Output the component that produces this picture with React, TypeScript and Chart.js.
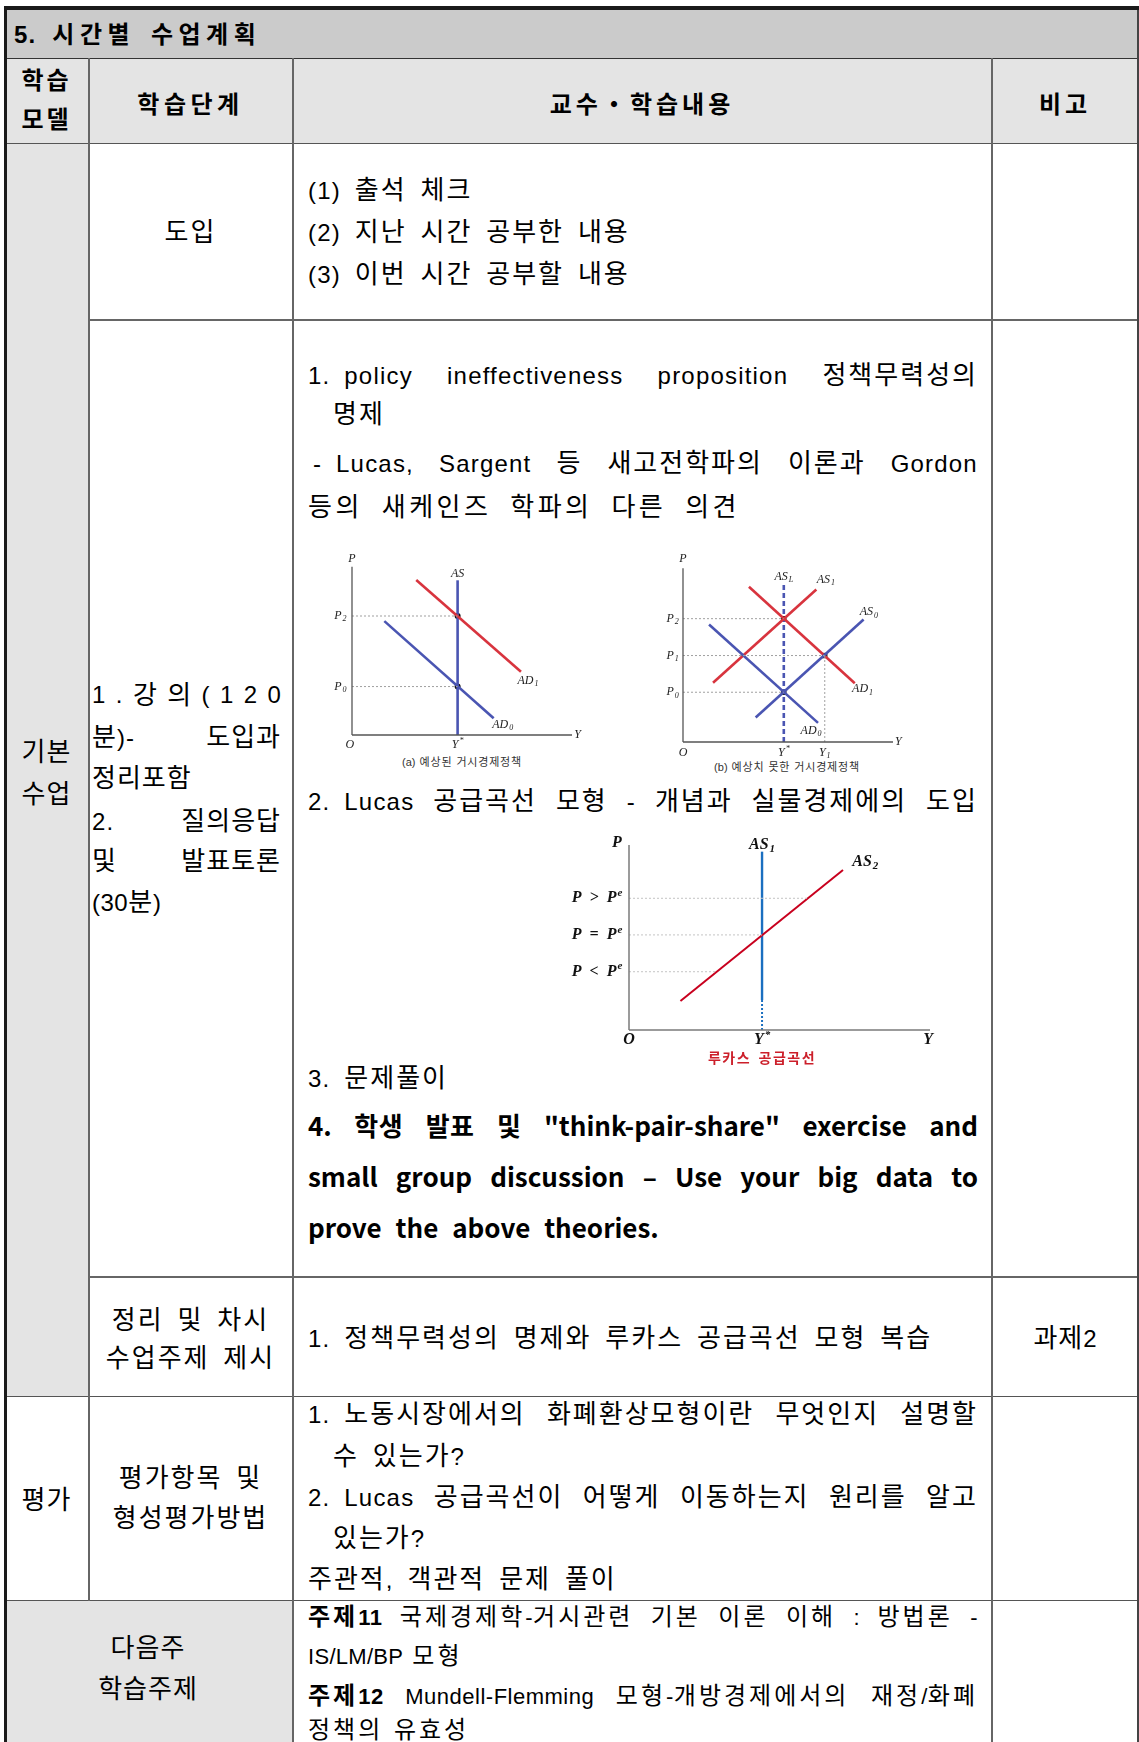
import React, { useEffect, useRef } from "react";
import { Chart, registerables } from "chart.js";

Chart.register(...registerables);

type Pt = { x: number; y: number };
type Lbl = { t: string; sub?: string; sup?: string; x: number; y: number; a?: "left" | "center" | "right" };

// ===== Figure (a) 예상된 거시경제정책 =====
const A_AXIS_X: Pt[] = [{ x: 0, y: 0 }, { x: 10, y: 0 }];
const A_AXIS_Y: Pt[] = [{ x: 0, y: 0 }, { x: 0, y: 9.9 }];
const A_AS: Pt[] = [{ x: 4.8, y: 0 }, { x: 4.8, y: 9.1 }];
const A_AD1: Pt[] = [{ x: 2.92, y: 9.12 }, { x: 7.68, y: 3.72 }];
const A_AD0: Pt[] = [{ x: 1.47, y: 6.7 }, { x: 6.44, y: 0.98 }];
const A_EQ: Pt[] = [{ x: 4.8, y: 7.0 }, { x: 4.8, y: 2.85 }];
const A_LABELS: Lbl[] = [
  { t: "P", x: 0, y: 10.35 },
  { t: "O", x: -0.1, y: -0.6 },
  { t: "Y", x: 10.25, y: 0 },
  { t: "Y", sup: "*", x: 4.8, y: -0.6 },
  { t: "P", sub: "2", x: -0.25, y: 7.0, a: "right" },
  { t: "P", sub: "0", x: -0.25, y: 2.85, a: "right" },
  { t: "AS", x: 4.8, y: 9.5 },
  { t: "AD", sub: "1", x: 8.0, y: 3.2 },
  { t: "AD", sub: "0", x: 6.85, y: 0.62 },
];

// ===== Figure (b) 예상치 못한 거시경제정책 =====
const B_AXIS_X: Pt[] = [{ x: 0, y: 0 }, { x: 10, y: 0 }];
const B_AXIS_Y: Pt[] = [{ x: 0, y: 0 }, { x: 0, y: 9.7 }];
const B_ASL: Pt[] = [{ x: 4.8, y: 0 }, { x: 4.8, y: 8.8 }];
const B_AS1: Pt[] = [{ x: 1.43, y: 3.31 }, { x: 6.35, y: 8.52 }];
const B_AS0: Pt[] = [{ x: 3.46, y: 1.37 }, { x: 8.6, y: 6.84 }];
const B_AD1: Pt[] = [{ x: 3.14, y: 8.67 }, { x: 8.18, y: 3.28 }];
const B_AD0: Pt[] = [{ x: 1.24, y: 6.56 }, { x: 6.43, y: 1.07 }];
const B_EQ: Pt[] = [{ x: 4.8, y: 6.89 }, { x: 6.75, y: 4.83 }, { x: 4.8, y: 2.78 }];
const B_Y1: Pt[] = [{ x: 6.75, y: 0 }, { x: 6.75, y: 4.83 }];
const B_LABELS: Lbl[] = [
  { t: "P", x: 0, y: 10.25 },
  { t: "AS", sub: "L", x: 4.8, y: 9.25 },
  { t: "AS", sub: "1", x: 6.8, y: 9.05 },
  { t: "AS", sub: "0", x: 8.85, y: 7.25 },
  { t: "AD", sub: "1", x: 8.55, y: 2.95 },
  { t: "AD", sub: "0", x: 6.1, y: 0.62 },
  { t: "O", x: 0, y: -0.6 },
  { t: "Y", sup: "*", x: 4.8, y: -0.6 },
  { t: "Y", sub: "1", x: 6.75, y: -0.6 },
  { t: "Y", x: 10.25, y: 0 },
  { t: "P", sub: "2", x: -0.2, y: 6.89, a: "right" },
  { t: "P", sub: "1", x: -0.2, y: 4.83, a: "right" },
  { t: "P", sub: "0", x: -0.2, y: 2.78, a: "right" },
];

// ===== 루카스 공급곡선 =====
const L_AXIS_X: Pt[] = [{ x: 0, y: 0 }, { x: 10, y: 0 }];
const L_AXIS_Y: Pt[] = [{ x: 0, y: 0 }, { x: 0, y: 10 }];
const L_AS1: Pt[] = [{ x: 4.42, y: 1.62 }, { x: 4.42, y: 9.64 }];
const L_AS1_DOT: Pt[] = [{ x: 4.42, y: 0 }, { x: 4.42, y: 1.62 }];
const L_AS2: Pt[] = [{ x: 1.71, y: 1.57 }, { x: 7.11, y: 8.65 }];
const L_LEVELS: number[] = [7.12, 5.14, 3.15];
const L_GUIDE_END: number[] = [5.94, 4.42, 2.92];
const L_LEVEL_TEXT: string[] = ["P  >  P", "P  =  P", "P  <  P"];
const L_LABELS: Lbl[] = [
  { t: "P", x: -0.4, y: 10.1 },
  { t: "AS", sub: "1", x: 4.42, y: 10.0 },
  { t: "AS", sub: "2", x: 7.85, y: 9.1 },
  ...L_LEVELS.map((v, i) => ({ t: L_LEVEL_TEXT[i], sup: "e", x: -0.22, y: v, a: "right" as const })),
  { t: "O", x: 0, y: -0.55 },
  { t: "Y", sup: "*", x: 4.42, y: -0.55 },
  { t: "Y", x: 9.94, y: -0.55 },
];

const FONT = '"Liberation Sans", "Noto Sans CJK KR", sans-serif';
const FONT_B = '"Noto Sans CJK KR", sans-serif';
const SERIF = '"Liberation Serif", "DejaVu Serif", serif';
const RED_A = "#d8343e";
const BLUE_A = "#4a55b2";

const labelPlugin = {
  id: "figLabels",
  afterDatasetsDraw(chart: any, _a: any, opts: any) {
    const items: Lbl[] = opts.items || [];
    const ctx = chart.ctx;
    const xs = chart.scales.x;
    const ys = chart.scales.y;
    ctx.save();
    ctx.textBaseline = "middle";
    ctx.textAlign = "left";
    ctx.fillStyle = opts.color;
    for (const it of items) {
      const main = `${opts.style} ${opts.size}px ${opts.family}`;
      const small = `${opts.style} ${Math.round(opts.size * 0.68)}px ${opts.family}`;
      const extra = it.sub ?? it.sup ?? "";
      ctx.font = main;
      const w1 = ctx.measureText(it.t).width;
      ctx.font = small;
      const w2 = extra ? ctx.measureText(extra).width + 1 : 0;
      const px = xs.getPixelForValue(it.x);
      const py = ys.getPixelForValue(it.y);
      const a = it.a ?? "center";
      const left = a === "center" ? px - (w1 + w2) / 2 : a === "right" ? px - (w1 + w2) : px;
      ctx.font = main;
      ctx.fillText(it.t, left, py);
      if (extra) {
        ctx.font = small;
        ctx.fillText(extra, left + w1 + 1, py + (it.sub ? opts.size * 0.28 : -opts.size * 0.32));
      }
    }
    ctx.restore();
  },
};

function ln(data: Pt[], color: string, width: number, dash: number[] = []) {
  return {
    data, showLine: true, borderColor: color, backgroundColor: color, borderWidth: width,
    borderDash: dash, pointRadius: 0, pointHoverRadius: 0, fill: false, tension: 0, clip: false,
  };
}
function pts(data: Pt[], style: string, r: number) {
  return {
    data, showLine: false, pointStyle: style, pointRadius: r, pointHoverRadius: r,
    pointBackgroundColor: "#111", pointBorderColor: "#111", pointBorderWidth: 0, clip: false,
  };
}
function cfg(datasets: any[], padding: any, items: Lbl[], font: any): any {
  return {
    type: "scatter",
    data: { datasets },
    options: {
      responsive: false, animation: false, events: [],
      layout: { padding },
      scales: {
        x: { type: "linear", min: 0, max: 10, display: false },
        y: { type: "linear", min: 0, max: 10, display: false },
      },
      plugins: { legend: { display: false }, tooltip: { enabled: false }, figLabels: { items, ...font } },
    },
    plugins: [labelPlugin],
  };
}

const guide = "#a0a0a0";
function figA() {
  return cfg(
    [
      ln(A_AXIS_Y, "#555", 1.3), ln(A_AXIS_X, "#555", 1.3),
      ...A_EQ.map((p) => ln([{ x: 0, y: p.y }, p], guide, 1, [2, 2])),
      ln(A_AD0, BLUE_A, 2.6), ln(A_AD1, RED_A, 2.6), ln(A_AS, BLUE_A, 2.6),
      pts(A_EQ, "circle", 3),
    ],
    { left: 52, right: 18, top: 17, bottom: 18 },
    A_LABELS,
    { style: "italic", size: 12, family: SERIF, color: "#222" }
  );
}
function figB() {
  return cfg(
    [
      ln(B_AXIS_Y, "#555", 1.3), ln(B_AXIS_X, "#555", 1.3),
      ...B_EQ.map((p) => ln([{ x: 0, y: p.y }, p], guide, 1, [2, 2])),
      ln(B_Y1, guide, 1, [2, 2]),
      ln(B_AD0, BLUE_A, 2.6), ln(B_AS0, BLUE_A, 2.6), ln(B_AS1, RED_A, 2.6), ln(B_AD1, RED_A, 2.6),
      ln(B_ASL, BLUE_A, 2.6, [5, 3]),
      pts(B_EQ, "rect", 3.8),
    ],
    { left: 35, right: 25, top: 15, bottom: 18 },
    B_LABELS,
    { style: "italic", size: 12, family: SERIF, color: "#222" }
  );
}
function figL() {
  return cfg(
    [
      ln(L_AXIS_Y, "#7a7a7a", 1.5), ln(L_AXIS_X, "#7a7a7a", 1.5),
      ...L_LEVELS.map((v, i) => ln([{ x: 0, y: v }, { x: L_GUIDE_END[i], y: v }], "#c4c4c4", 1, [2, 2])),
      ln(L_AS2, "#c8001e", 2),
      ln(L_AS1, "#1b6fc0", 2.4),
      ln(L_AS1_DOT, "#1b6fc0", 2, [2, 2]),
    ],
    { left: 84, right: 25, top: 20, bottom: 20 },
    L_LABELS,
    { style: "italic bold", size: 16, family: SERIF, color: "#111" }
  );
}

function ChartCanvas({ make, left, top, w, h }: { make: () => any; left: number; top: number; w: number; h: number }) {
  const ref = useRef<HTMLCanvasElement>(null);
  useEffect(() => {
    const c = new Chart(ref.current as HTMLCanvasElement, make());
    return () => c.destroy();
  }, []);
  return <canvas ref={ref} width={w} height={h} style={{ position: "absolute", left, top, width: w, height: h }} />;
}

const HANGUL = /([\u3131-\uD7A3・]+)/;
function runs(s: string, lsH: number, lsL: number, lat: number | undefined, key: string, bold?: boolean) {
  return s
    .split(HANGUL)
    .filter((r) => r.length > 0)
    .map((r, i) =>
      HANGUL.test(r) ? (
        <span key={key + i} style={{ letterSpacing: lsH, fontWeight: bold ? 700 : undefined }}>{r}</span>
      ) : (
        <span key={key + i} style={{ letterSpacing: lsL, fontSize: lat, fontWeight: bold ? 700 : undefined }}>{r}</span>
      )
    );
}

type TP = {
  x: number; y: number; w?: number; mode?: "left" | "center" | "justify" | "spread";
  size?: number; bold?: boolean; lsH?: number; lsL?: number; ws?: number; lh?: number;
  color?: string; family?: string; lat?: number; children: string;
};
function T({
  x, y, w = 0, mode = "left", size = 26, bold = false, lsH = 2, lsL = 1.2, ws = 6, lh = 36,
  color = "#000", family = FONT, lat = 24, children,
}: TP) {
  const base: React.CSSProperties = {
    position: "absolute", top: y - lh / 2, height: lh, lineHeight: `${lh}px`,
    fontFamily: family, fontSize: size, fontWeight: bold ? 700 : 400,
    wordSpacing: ws, color, whiteSpace: "pre",
  };
  if (mode === "center")
    return <div style={{ ...base, left: x - w / 2, width: w, textAlign: "center" }}>{runs(children, lsH, lsL, lat, "c")}</div>;
  if (mode === "left") return <div style={{ ...base, left: x }}>{runs(children, lsH, lsL, lat, "l")}</div>;
  if (mode === "spread") {
    const chars = Array.from(children.replace(/ /g, ""));
    return (
      <div style={{ ...base, left: x, width: w, display: "flex", justifyContent: "space-between" }}>
        {chars.map((ch, i) => (
          <span key={i} style={{ fontSize: HANGUL.test(ch) ? size : lat }}>{ch}</span>
        ))}
      </div>
    );
  }
  const words = children.split(/ +/);
  return (
    <div style={{ ...base, left: x, width: w, display: "flex", justifyContent: "space-between" }}>
      {words.map((p, i) => {
        const b = p.startsWith("§");
        return <span key={i}>{runs(b ? p.slice(1) : p, lsH, lsL, lat, "w" + i, b)}</span>;
      })}
    </div>
  );
}

function R({ x, y, w, h, bg }: { x: number; y: number; w: number; h: number; bg: string }) {
  return <div style={{ position: "absolute", left: x, top: y, width: w, height: h, background: bg }} />;
}

export default function App() {
  const C2 = 190.5;
  const X2 = 92;
  const W2 = 189;
  const X3 = 308;
  const W3 = 670;
  const XI = 333;
  return (
    <div style={{ position: "absolute", left: 0, top: 0, width: 1139, height: 1742, overflow: "hidden", background: "#fff" }}>
      {/* backgrounds */}
      <R x={4} y={7} w={1135} h={51} bg="#cbcbcb" />
      <R x={4} y={58} w={1135} h={86} bg="#e4e4e4" />
      <R x={4} y={144} w={85} h={1253} bg="#e4e4e4" />
      <R x={4} y={1601} w={289} h={141} bg="#e4e4e4" />
      {/* rules */}
      <R x={4} y={57.5} w={1135} h={1.5} bg="#333" />
      <R x={4} y={142.5} w={1135} h={1.5} bg="#555" />
      <R x={88} y={319} w={1051} h={1.5} bg="#666" />
      <R x={88} y={1276} w={1051} h={1.5} bg="#666" />
      <R x={4} y={1395.5} w={1135} h={1.5} bg="#555" />
      <R x={4} y={1599.5} w={1135} h={1.5} bg="#555" />
      <R x={88} y={58} w={1.5} h={1543} bg="#666" />
      <R x={292} y={58} w={1.5} h={1684} bg="#666" />
      <R x={991} y={58} w={1.5} h={1684} bg="#666" />
      <R x={1137} y={6} w={2} h={1736} bg="#444" />
      <R x={4} y={6} w={1135} h={3.5} bg="#1a1a1a" />
      <R x={3.5} y={6} w={3.5} h={1736} bg="#1a1a1a" />

      {/* title + header */}
      <T x={14} y={35} size={24} lat={24} bold lsH={5.5} ws={8}>5. 시간별 수업계획</T>
      <T x={46.5} y={81} w={84} mode="center" size={24} bold lsH={3}>학습</T>
      <T x={46.5} y={120} w={84} mode="center" size={24} bold lsH={3}>모델</T>
      <T x={C2} y={105} w={204} mode="center" size={24} bold lsH={4.5}>학습단계</T>
      <T x={642} y={105} w={400} mode="center" size={24} bold lsH={4}>교수・학습내용</T>
      <T x={1065} y={105} w={140} mode="center" size={24} bold lsH={4}>비고</T>

      {/* 도입 */}
      <T x={C2} y={232} w={204} mode="center">도입</T>
      <T x={X3} y={190}>(1) 출석 체크</T>
      <T x={X3} y={232}>(2) 지난 시간 공부한 내용</T>
      <T x={X3} y={274}>(3) 이번 시간 공부할 내용</T>

      {/* 기본 수업 */}
      <T x={46.5} y={752} w={84} mode="center" lsH={1}>기본</T>
      <T x={46.5} y={794} w={84} mode="center" lsH={1}>수업</T>

      {/* lecture col2 */}
      <T x={X2} y={695} w={W2} mode="spread">1.강의(120</T>
      <T x={X2} y={737} w={W2} mode="justify" lsH={1}>분)- 도입과</T>
      <T x={X2} y={778} lsH={1}>정리포함</T>
      <T x={X2} y={821} w={W2} mode="justify" lsH={1}>2. 질의응답</T>
      <T x={X2} y={861} w={W2} mode="justify" lsH={1}>및 발표토론</T>
      <T x={X2} y={902} lsH={1} lsL={0.5}>(30분)</T>

      {/* lecture col3 */}
      <T x={X3} y={375} w={W3} mode="justify">{"1.\u00a0policy ineffectiveness proposition 정책무력성의"}</T>
      <T x={XI} y={414}>명제</T>
      <T x={313} y={463} w={665} mode="justify">{"-\u00a0Lucas, Sargent 등 새고전학파의 이론과 Gordon"}</T>
      <T x={X3} y={507} lsH={3.5} ws={11}>등의 새케인즈 학파의 다른 의견</T>

      <ChartCanvas make={figA} left={300} top={548} w={290} h={205} />
      <T x={462} y={762} w={220} mode="center" size={11} lat={11} lsH={0.8} lsL={0} ws={1} lh={14} color="#333">(a) 예상된 거시경제정책</T>
      <ChartCanvas make={figB} left={648} top={548} w={270} h={212} />
      <T x={787} y={767} w={220} mode="center" size={11} lat={11} lsH={0.8} lsL={0} ws={1} lh={14} color="#333">(b) 예상치 못한 거시경제정책</T>

      <T x={X3} y={801} w={W3} mode="justify">{"2.\u00a0Lucas 공급곡선 모형 - 개념과 실물경제에의 도입"}</T>

      <ChartCanvas make={figL} left={545} top={825} w={410} h={225} />
      <T x={762} y={1057} w={220} mode="center" size={14} lat={14} bold lsH={1.5} ws={3} lh={18} color="#cc1f2a" family={FONT_B}>루카스 공급곡선</T>

      <T x={X3} y={1078}>3. 문제풀이</T>
      <T x={X3} y={1125} w={W3} mode="justify" size={26} lat={26} bold lsH={0.5} lsL={0} ws={0} lh={40} family={FONT_B}>4. 학생 발표 및 "think-pair-share" exercise and</T>
      <T x={X3} y={1176} w={W3} mode="justify" size={26} lat={26} bold lsH={0.5} lsL={0} ws={0} lh={40} family={FONT_B}>small group discussion – Use your big data to</T>
      <T x={X3} y={1227} size={26} lat={26} bold lsH={0.5} lsL={0} ws={8} lh={40} family={FONT_B}>prove the above theories.</T>

      {/* 정리 */}
      <T x={C2} y={1320} w={204} mode="center">정리 및 차시</T>
      <T x={C2} y={1358} w={204} mode="center">수업주제 제시</T>
      <T x={X3} y={1338}>1. 정책무력성의 명제와 루카스 공급곡선 모형 복습</T>
      <T x={1065} y={1338} w={140} mode="center" lsH={1} lsL={0}>과제2</T>

      {/* 평가 */}
      <T x={46.5} y={1500} w={84} mode="center" lsH={1}>평가</T>
      <T x={C2} y={1478} w={204} mode="center">평가항목 및</T>
      <T x={C2} y={1518} w={204} mode="center">형성평가방법</T>
      <T x={X3} y={1414} w={W3} mode="justify">{"1.\u00a0노동시장에서의 화폐환상모형이란 무엇인지 설명할"}</T>
      <T x={XI} y={1456}>수 있는가?</T>
      <T x={X3} y={1497} w={W3} mode="justify">{"2.\u00a0Lucas 공급곡선이 어떻게 이동하는지 원리를 알고"}</T>
      <T x={XI} y={1538}>있는가?</T>
      <T x={X3} y={1579}>주관적, 객관적 문제 풀이</T>

      {/* 다음주 */}
      <T x={148} y={1648} w={280} mode="center" lsH={1}>다음주</T>
      <T x={148} y={1689} w={280} mode="center" lsH={1}>학습주제</T>
      <T x={X3} y={1617} w={W3} mode="justify" size={24} lat={22} lsH={3} lsL={0.5}>§주제11 국제경제학-거시관련 기본 이론 이해 : 방법론 -</T>
      <T x={X3} y={1656} size={24} lat={22} lsH={3} lsL={0.3} ws={3}>IS/LM/BP 모형</T>
      <T x={X3} y={1696} w={W3} mode="justify" size={24} lat={22} lsH={3} lsL={0.5}>§주제12 Mundell-Flemming 모형-개방경제에서의 재정/화폐</T>
      <T x={X3} y={1730} size={24} lat={22} lsH={3} lsL={0.5} ws={4}>정책의 유효성</T>
    </div>
  );
}
